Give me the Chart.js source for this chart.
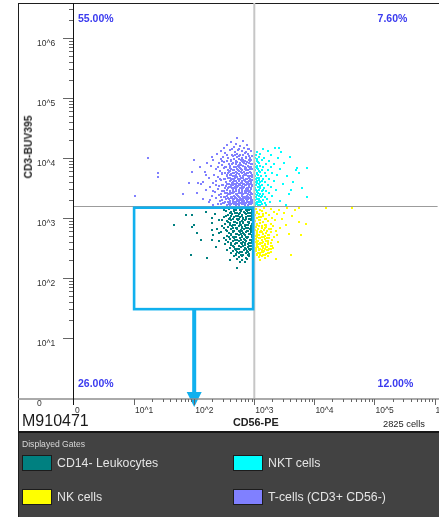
<!DOCTYPE html>
<html>
<head>
<meta charset="utf-8">
<script src="https://cdn.jsdelivr.net/npm/chart.js@4/dist/chart.umd.min.js"></script>
<style>
  html, body { margin: 0; padding: 0; background: #fff; }
  #wrap { position: relative; width: 439px; height: 517px; overflow: hidden; font-family: "Liberation Sans", Arial, sans-serif; }
  #plot { position: absolute; left: 0; top: 0; z-index: 2; }
  .abs { position: absolute; z-index: 1; }
  .txt { position: absolute; z-index: 3; white-space: nowrap; line-height: 1; }
</style>
</head>
<body>
<div id="wrap">
  <!-- frame -->
  <div class="abs" style="left:18px;top:3px;width:421px;height:1px;background:#1e1e1e"></div>
  <div class="abs" style="left:18px;top:3px;width:1px;height:514px;background:#1e1e1e"></div>
  <div class="abs" style="left:18px;top:431px;width:421px;height:2px;background:#161616"></div>
  <div class="abs" id="legendBox" style="left:19px;top:433px;width:420px;height:84px;background:#424242"></div>

  <div class="txt" id="yTitle" style="left:29px;top:147px;font-weight:bold;font-size:10.3px;color:#222;transform:translate(-50%,-50%) rotate(-90deg);"></div>
  <div class="txt" id="sampleId" style="left:22px;top:413px;font-size:16px;color:#1a1a1a;"></div>
  <div class="txt" id="xTitle" style="left:233px;top:417px;font-weight:bold;font-size:10.8px;color:#222;"></div>
  <div class="txt" id="cellCount" style="left:383px;top:419.5px;font-size:9.3px;color:#222;"></div>
  <div class="txt" style="left:22px;top:439.5px;font-size:8.6px;color:#d8d8d8;">Displayed Gates</div>
  <div id="legendItems"></div>

  <canvas id="plot" width="439" height="517"></canvas>
</div>

<script>
// ---- axes (decade units: value 3 means 10^3) ----
const cd56Label = 'CD56-PE';
const cd3Label = 'CD3-BUV395';
const sampleName = 'M910471';
const eventCount = 2825;
const decadeLabels = ['0', '10^1', '10^2', '10^3', '10^4', '10^5', '10^6'];

// quadrant cut-offs (log10) and quadrant percentages: UL, UR, LL, LR
const cd56Cut = 3.0;
const cd3Cut = 3.2;
const quadrantPct = [55.00, 7.60, 26.00, 12.00];

// rectangular gate on CD56/CD3 (log10) and the arrow that leads out of it
const gateCd56 = [1.0, 2.98];
const gateCd3 = [1.48, 3.17];
const arrowCd56 = 2.0;

// displayed gates
const gateNames = ['CD14- Leukocytes', 'NKT cells', 'NK cells', 'T-cells (CD3+ CD56-)'];

// events per gate: [log10 CD56-PE, log10 CD3-BUV395]
const cd14Events = [
  [2.46,3.16],[2.58,3.15],[2.64,3.16],[2.70,3.14],[2.75,3.16],[2.80,3.15],[2.85,3.16],[2.90,3.14],[2.95,3.15],
  [2.53,3.11],[2.61,3.10],[2.67,3.12],[2.72,3.09],[2.78,3.11],[2.83,3.10],[2.88,3.12],[2.93,3.09],[2.97,3.11],
  [2.35,3.06],[2.56,3.05],[2.63,3.07],[2.69,3.04],[2.74,3.06],[2.80,3.05],[2.86,3.07],[2.91,3.04],[2.96,3.06],
  [2.49,3.01],[2.59,3.00],[2.66,3.02],[2.71,2.99],[2.77,3.01],[2.82,3.00],[2.87,3.02],[2.92,2.99],[2.97,3.01],
  [2.42,2.96],[2.55,2.95],[2.62,2.97],[2.68,2.94],[2.73,2.96],[2.79,2.95],[2.84,2.97],[2.89,2.94],[2.94,2.96],
  [2.29,2.91],[2.51,2.90],[2.60,2.92],[2.65,2.89],[2.71,2.91],[2.76,2.90],[2.81,2.92],[2.86,2.89],[2.91,2.91],[2.96,2.90],
  [2.47,2.86],[2.57,2.85],[2.63,2.87],[2.69,2.84],[2.74,2.86],[2.79,2.85],[2.84,2.87],[2.89,2.84],[2.94,2.86],
  [2.38,2.81],[2.53,2.80],[2.61,2.82],[2.67,2.79],[2.72,2.81],[2.78,2.80],[2.83,2.82],[2.88,2.79],[2.93,2.81],[2.97,2.80],
  [2.44,2.76],[2.58,2.75],[2.65,2.77],[2.70,2.74],[2.76,2.76],[2.81,2.75],[2.86,2.77],[2.91,2.74],[2.95,2.76],
  [2.32,2.71],[2.55,2.70],[2.62,2.72],[2.68,2.69],[2.74,2.71],[2.79,2.70],[2.85,2.72],[2.90,2.69],[2.96,2.71],
  [2.49,2.66],[2.60,2.65],[2.66,2.67],[2.72,2.64],[2.77,2.66],[2.83,2.65],[2.88,2.67],[2.93,2.64],
  [2.41,2.61],[2.56,2.60],[2.64,2.62],[2.70,2.59],[2.75,2.61],[2.81,2.60],[2.87,2.62],[2.92,2.59],[2.97,2.61],
  [2.52,2.56],[2.62,2.55],[2.68,2.57],[2.74,2.54],[2.79,2.56],[2.85,2.55],[2.90,2.57],[2.95,2.54],
  [2.36,2.51],[2.59,2.50],[2.66,2.52],[2.72,2.49],[2.78,2.51],[2.84,2.50],[2.89,2.52],[2.94,2.49],
  [2.55,2.46],[2.64,2.45],[2.70,2.47],[2.77,2.44],[2.83,2.46],[2.88,2.45],[2.93,2.47],
  [2.61,2.41],[2.69,2.40],[2.75,2.42],[2.82,2.39],[2.87,2.41],[2.92,2.40],
  [2.66,2.36],[2.74,2.35],[2.80,2.37],[2.86,2.34],[2.91,2.36],
  [2.71,2.31],[2.79,2.30],[2.88,2.32],
  [2.76,2.26],[2.84,2.27],
  [2.50,3.13],[2.66,3.14],[2.76,3.13],[2.86,3.14],[2.92,3.13],
  [2.53,3.03],[2.62,3.04],[2.73,3.03],[2.79,3.04],[2.89,3.03],[2.94,3.04],
  [2.57,2.93],[2.66,2.94],[2.76,2.93],[2.82,2.94],[2.92,2.93],
  [2.50,2.83],[2.64,2.84],[2.71,2.83],[2.80,2.84],[2.86,2.83],[2.95,2.84],
  [2.61,2.73],[2.71,2.74],[2.78,2.73],[2.83,2.74],[2.93,2.73],
  [2.53,2.63],[2.68,2.64],[2.78,2.63],[2.85,2.64],[2.95,2.63],
  [2.65,2.53],[2.75,2.54],[2.82,2.53],[2.92,2.54],
  [2.72,2.43],[2.80,2.44],[2.90,2.43],
  [2.60,3.08],[2.68,3.09],[2.76,3.08],[2.84,3.09],[2.90,3.08],[2.95,3.09],
  [2.58,2.98],[2.65,2.99],[2.75,2.98],[2.81,2.98],[2.87,2.99],[2.95,2.98],
  [2.60,2.88],[2.68,2.89],[2.78,2.88],[2.84,2.89],[2.90,2.88],[2.97,2.88],
  [2.55,2.78],[2.64,2.79],[2.74,2.78],[2.80,2.78],[2.89,2.78],[2.94,2.79],
  [2.58,2.68],[2.64,2.69],[2.70,2.68],[2.80,2.68],[2.86,2.69],[2.96,2.68],
  [2.62,2.58],[2.72,2.59],[2.78,2.58],[2.84,2.58],[2.94,2.59],
  [2.68,2.48],[2.75,2.48],[2.86,2.48],[2.91,2.48],
  [2.70,2.38],[2.78,2.38],[2.89,2.38],
  [1.87,3.05],[1.96,3.05],[2.00,2.88],[1.96,2.85],[2.04,2.75],[2.12,2.63],[1.94,2.38],[2.22,2.33],
  [2.30,2.80],[2.37,2.52],[2.42,2.75],[2.47,2.97],[2.59,2.30],[2.72,2.17],[2.29,3.00],[2.20,3.10],
  [2.29,2.63],[1.66,2.88]
];

const nkEvents = [
  [3.03,3.15],[3.09,3.14],[3.16,3.16],[3.28,3.15],[3.41,3.13],[3.55,3.16],[3.68,3.14],
  [3.05,3.10],[3.12,3.11],[3.20,3.09],[3.33,3.10],[3.50,3.08],
  [3.02,3.05],[3.08,3.06],[3.15,3.04],[3.24,3.05],[3.38,3.06],[3.62,3.03],
  [3.04,3.00],[3.11,3.01],[3.19,2.99],[3.29,3.00],[3.46,2.98],
  [3.02,2.95],[3.07,2.96],[3.14,2.94],[3.22,2.95],[3.35,2.96],[3.74,2.93],
  [3.05,2.90],[3.10,2.91],[3.17,2.89],[3.27,2.90],[3.52,2.88],
  [3.03,2.85],[3.08,2.86],[3.13,2.84],[3.20,2.85],[3.31,2.86],[3.43,2.83],
  [3.02,2.80],[3.06,2.81],[3.11,2.79],[3.16,2.80],[3.24,2.81],[3.36,2.79],
  [3.04,2.75],[3.09,2.76],[3.14,2.74],[3.19,2.75],[3.28,2.76],[3.58,2.74],
  [3.02,2.70],[3.07,2.71],[3.12,2.69],[3.17,2.70],[3.22,2.71],[3.33,2.69],
  [3.03,2.65],[3.08,2.66],[3.13,2.64],[3.18,2.65],[3.25,2.66],[3.30,2.64],
  [3.02,2.60],[3.06,2.61],[3.10,2.59],[3.15,2.60],[3.20,2.61],[3.27,2.59],[3.40,2.60],
  [3.04,2.55],[3.08,2.56],[3.12,2.54],[3.17,2.55],[3.22,2.56],[3.29,2.54],
  [3.02,2.50],[3.06,2.51],[3.10,2.49],[3.14,2.50],[3.19,2.51],[3.24,2.49],[3.31,2.50],
  [3.03,2.45],[3.08,2.46],[3.12,2.44],[3.16,2.45],[3.21,2.46],[3.27,2.44],
  [3.05,2.40],[3.10,2.41],[3.15,2.39],[3.20,2.40],[3.25,2.41],
  [3.07,2.35],[3.13,2.36],[3.18,2.34],
  [3.10,2.30],[3.36,2.31],
  [3.09,2.97],[3.17,2.98],
  [3.06,2.82],[3.18,2.83],[3.27,2.82],
  [3.05,2.72],[3.15,2.73],[3.25,2.72],
  [3.05,2.62],[3.12,2.63],[3.23,2.62],
  [3.05,2.52],[3.15,2.53],[3.21,2.52],[3.27,2.53],
  [3.06,2.42],[3.14,2.43],[3.23,2.42],
  [3.04,2.68],[3.10,2.67],[3.16,2.68],[3.21,2.67],
  [3.04,2.58],[3.09,2.57],[3.13,2.58],[3.18,2.57],[3.23,2.58],
  [3.03,2.48],[3.08,2.48],[3.12,2.47],[3.17,2.48],[3.22,2.47],[3.28,2.48],
  [3.04,2.38],[3.09,2.38],[3.13,2.37],[3.18,2.38],[3.22,2.37],
  [3.05,2.78],[3.12,2.77],[3.21,2.78],
  [3.04,2.88],[3.12,2.87],[3.20,2.88],
  [3.05,3.08],[3.14,3.07],[3.08,3.02],
  [3.75,3.17],[3.86,2.90],[3.61,2.38],[4.62,3.17],[4.19,3.16],[3.78,2.72],[3.38,2.72]
];

const nktEvents = [
  [3.14,4.15],[3.35,4.16],[3.41,4.16],
  [3.05,4.10],[3.22,4.11],[3.45,4.09],
  [3.03,4.05],[3.10,4.06],[3.28,4.04],
  [3.02,4.00],[3.08,4.01],[3.16,3.99],[3.40,4.00],[3.60,4.02],
  [3.04,3.95],[3.12,3.96],[3.25,3.94],
  [3.02,3.90],[3.07,3.91],[3.19,3.89],[3.33,3.90],[3.50,3.91],
  [3.03,3.85],[3.10,3.86],[3.15,3.84],[3.28,3.85],[3.88,3.83],[3.71,3.83],
  [3.02,3.80],[3.06,3.81],[3.12,3.79],[3.22,3.80],[3.43,3.81],[3.70,3.79],
  [3.04,3.75],[3.09,3.76],[3.17,3.74],[3.30,3.75],[3.75,3.75],
  [3.02,3.70],[3.06,3.71],[3.11,3.69],[3.20,3.70],[3.38,3.71],[3.55,3.69],
  [3.03,3.65],[3.08,3.66],[3.14,3.64],[3.25,3.65],
  [3.02,3.60],[3.05,3.61],[3.10,3.59],[3.18,3.60],[3.32,3.61],[3.64,3.59],
  [3.03,3.55],[3.07,3.56],[3.13,3.54],[3.22,3.55],[3.47,3.56],
  [3.02,3.50],[3.06,3.51],[3.10,3.49],[3.16,3.50],[3.28,3.51],[3.80,3.49],
  [3.04,3.45],[3.08,3.46],[3.12,3.44],[3.20,3.45],[3.36,3.46],[3.61,3.46],
  [3.02,3.40],[3.06,3.41],[3.10,3.39],[3.15,3.40],[3.24,3.41],[3.57,3.39],
  [3.03,3.35],[3.07,3.36],[3.11,3.34],[3.18,3.35],[3.30,3.36],[3.88,3.34],
  [3.02,3.30],[3.05,3.31],[3.09,3.29],[3.14,3.30],[3.21,3.31],[3.42,3.29],
  [3.03,3.25],[3.07,3.26],[3.12,3.24],[3.17,3.25],[3.26,3.26],
  [3.02,3.21],[3.06,3.22],[3.10,3.21],[3.19,3.22],[3.52,3.21],
  [3.05,3.87],[3.05,3.67],[3.03,3.47],[3.08,3.32],[3.04,3.27],
  [3.04,3.98],[3.06,3.93],[3.04,3.83],[3.08,3.78],[3.04,3.73],[3.07,3.63],[3.04,3.58],[3.09,3.53],
  [3.05,3.43],[3.04,3.38],[3.08,3.28],[3.04,3.23],[3.12,3.62],[3.15,3.47],[3.12,3.37],[3.11,3.27]
];

const tCellEvents = [
  [2.72,4.33],[2.62,4.27],[2.81,4.28],[2.55,4.21],[2.70,4.23],[2.77,4.19],[2.88,4.22],
  [2.50,4.16],[2.66,4.18],[2.74,4.15],[2.83,4.17],[2.92,4.14],
  [2.45,4.11],[2.59,4.13],[2.68,4.10],[2.79,4.12],[2.86,4.09],[2.95,4.11],
  [2.38,4.06],[2.52,4.08],[2.63,4.05],[2.72,4.07],[2.76,4.04],[2.84,4.08],[2.90,4.06],
  [2.48,4.02],[2.57,4.00],[2.65,4.03],[2.71,4.01],[2.80,3.99],[2.87,4.02],[2.93,4.00],[2.97,4.03],
  [2.32,3.96],[2.44,3.98],[2.55,3.95],[2.61,3.97],[2.69,3.94],[2.74,3.98],[2.82,3.96],[2.88,3.93],[2.95,3.97],
  [2.41,3.91],[2.50,3.93],[2.58,3.90],[2.64,3.92],[2.70,3.89],[2.77,3.91],[2.81,3.93],[2.86,3.90],[2.91,3.92],[2.96,3.89],
  [2.28,3.86],[2.46,3.88],[2.53,3.85],[2.60,3.87],[2.67,3.84],[2.73,3.86],[2.78,3.88],[2.84,3.85],[2.89,3.87],[2.94,3.84],
  [2.36,3.81],[2.49,3.83],[2.56,3.80],[2.62,3.82],[2.66,3.79],[2.71,3.81],[2.76,3.83],[2.80,3.80],[2.85,3.82],[2.90,3.79],[2.97,3.81],
  [2.18,3.76],[2.43,3.78],[2.51,3.75],[2.58,3.77],[2.64,3.74],[2.69,3.76],[2.74,3.78],[2.79,3.75],[2.83,3.77],[2.88,3.74],[2.93,3.76],
  [2.33,3.71],[2.47,3.73],[2.54,3.70],[2.60,3.72],[2.65,3.69],[2.70,3.71],[2.75,3.73],[2.81,3.70],[2.86,3.72],[2.91,3.69],[2.96,3.71],
  [2.25,3.66],[2.40,3.68],[2.50,3.65],[2.57,3.67],[2.63,3.64],[2.68,3.66],[2.72,3.68],[2.77,3.65],[2.82,3.67],[2.87,3.64],[2.92,3.66],[2.97,3.68],
  [2.37,3.61],[2.45,3.63],[2.53,3.60],[2.59,3.62],[2.64,3.59],[2.70,3.61],[2.75,3.63],[2.79,3.60],[2.84,3.62],[2.89,3.59],[2.94,3.61],
  [2.12,3.56],[2.31,3.58],[2.48,3.55],[2.55,3.57],[2.61,3.54],[2.66,3.56],[2.71,3.58],[2.76,3.55],[2.81,3.57],[2.85,3.54],[2.90,3.56],[2.95,3.58],
  [2.27,3.51],[2.42,3.53],[2.51,3.50],[2.58,3.52],[2.63,3.49],[2.68,3.51],[2.73,3.53],[2.78,3.50],[2.83,3.52],[2.88,3.49],[2.92,3.51],[2.97,3.53],
  [2.20,3.46],[2.39,3.48],[2.46,3.45],[2.54,3.47],[2.60,3.44],[2.65,3.46],[2.70,3.48],[2.74,3.45],[2.80,3.47],[2.85,3.44],[2.89,3.46],[2.94,3.48],
  [2.05,3.41],[2.34,3.43],[2.44,3.40],[2.52,3.42],[2.57,3.39],[2.62,3.41],[2.67,3.43],[2.72,3.40],[2.77,3.42],[2.82,3.39],[2.86,3.41],[2.91,3.43],[2.96,3.40],
  [2.29,3.36],[2.41,3.38],[2.49,3.35],[2.55,3.37],[2.61,3.34],[2.66,3.36],[2.71,3.38],[2.75,3.35],[2.79,3.37],[2.84,3.34],[2.88,3.36],[2.93,3.38],
  [2.15,3.31],[2.36,3.33],[2.47,3.30],[2.53,3.32],[2.59,3.29],[2.64,3.31],[2.69,3.33],[2.74,3.30],[2.78,3.32],[2.83,3.29],[2.87,3.31],[2.92,3.33],[2.97,3.30],
  [2.24,3.26],[2.43,3.28],[2.50,3.25],[2.56,3.27],[2.62,3.24],[2.67,3.26],[2.72,3.28],[2.76,3.25],[2.81,3.27],[2.85,3.24],[2.90,3.26],[2.95,3.28],
  [2.32,3.22],[2.45,3.23],[2.54,3.21],[2.60,3.22],[2.66,3.23],[2.70,3.21],[2.75,3.22],[2.80,3.23],[2.84,3.21],[2.89,3.22],[2.94,3.23],
  [2.63,4.14],[2.73,4.13],[2.90,4.15],
  [2.55,4.04],[2.68,4.05],[2.74,4.03],[2.82,4.05],[2.91,4.03],
  [2.47,3.94],[2.62,3.95],[2.72,3.93],[2.79,3.95],[2.84,3.94],[2.93,3.95],
  [2.39,3.84],[2.52,3.85],[2.59,3.83],[2.69,3.85],[2.75,3.84],[2.82,3.86],[2.87,3.83],[2.92,3.85],
  [2.46,3.74],[2.56,3.75],[2.62,3.73],[2.67,3.75],[2.72,3.74],[2.78,3.76],[2.85,3.73],[2.90,3.75],[2.95,3.74],
  [2.43,3.64],[2.51,3.65],[2.61,3.63],[2.67,3.65],[2.73,3.64],[2.78,3.66],[2.83,3.63],[2.88,3.65],[2.93,3.64],
  [2.36,3.54],[2.46,3.55],[2.53,3.53],[2.64,3.55],[2.69,3.54],[2.74,3.56],[2.79,3.53],[2.87,3.55],[2.92,3.54],[2.96,3.55],
  [2.31,3.44],[2.49,3.45],[2.59,3.43],[2.64,3.45],[2.70,3.44],[2.75,3.46],[2.80,3.43],[2.84,3.45],[2.88,3.44],[2.93,3.45],
  [2.44,3.34],[2.51,3.35],[2.57,3.33],[2.63,3.35],[2.68,3.34],[2.73,3.36],[2.77,3.33],[2.81,3.35],[2.86,3.34],[2.90,3.35],[2.95,3.34],
  [2.39,3.24],[2.48,3.25],[2.58,3.23],[2.64,3.25],[2.69,3.24],[2.73,3.23],[2.78,3.25],[2.82,3.24],[2.87,3.25],[2.92,3.24],[2.96,3.25],
  [2.66,3.98],[2.78,3.97],[2.86,3.99],[2.92,3.96],
  [2.63,3.89],[2.75,3.88],[2.83,3.91],[2.94,3.90],[2.70,3.92],
  [2.65,3.80],[2.73,3.79],[2.78,3.81],[2.87,3.80],[2.93,3.82],[2.59,3.78],
  [2.62,3.71],[2.68,3.69],[2.77,3.70],[2.83,3.72],[2.89,3.70],[2.95,3.69],[2.55,3.72],
  [2.60,3.66],[2.66,3.62],[2.74,3.61],[2.80,3.62],[2.86,3.60],[2.91,3.62],[2.96,3.63],
  [2.58,3.57],[2.63,3.58],[2.69,3.57],[2.78,3.58],[2.83,3.56],[2.88,3.58],[2.93,3.57],
  [2.56,3.49],[2.61,3.51],[2.67,3.49],[2.71,3.51],[2.76,3.49],[2.81,3.50],[2.86,3.48],[2.90,3.50],[2.95,3.49],
  [2.55,3.41],[2.60,3.39],[2.65,3.41],[2.70,3.39],[2.74,3.41],[2.79,3.40],[2.84,3.42],[2.89,3.40],[2.94,3.41],
  [2.58,3.31],[2.62,3.33],[2.67,3.31],[2.72,3.32],[2.76,3.30],[2.81,3.31],[2.85,3.33],[2.90,3.31],[2.95,3.32],
  [2.52,3.27],[2.60,3.26],[2.65,3.28],[2.70,3.27],[2.74,3.26],[2.79,3.28],[2.83,3.26],[2.88,3.28],[2.93,3.26],[2.97,3.27],
  [1.01,3.37],[1.23,3.99],[1.39,3.74],[1.39,3.68],[1.81,3.39],[1.92,3.58],[1.97,3.76],[2.00,3.96],
  [2.06,3.58],[2.15,3.60],[2.20,3.71],[2.27,3.30],[2.10,3.85],[2.22,3.92],[2.30,4.02]
];

// ---- styling ----
const gateColors = {
  'CD14- Leukocytes': '#008080',
  'NKT cells': '#00ffff',
  'NK cells': '#ffff00',
  'T-cells (CD3+ CD56-)': '#8080ff'
};
const gateEvents = {
  'CD14- Leukocytes': cd14Events,
  'NKT cells': nktEvents,
  'NK cells': nkEvents,
  'T-cells (CD3+ CD56-)': tCellEvents
};
const regionBlue = '#10b0ee';
const quadTextColor = '#3a3aef';
const labelFont = '"Liberation Sans", Arial, sans-serif';

// ---- static text ----
document.getElementById('yTitle').textContent = cd3Label;
document.getElementById('xTitle').textContent = cd56Label;
document.getElementById('sampleId').textContent = sampleName;
document.getElementById('cellCount').textContent = eventCount + ' cells';

// legend of displayed gates (two columns)
(function buildLegend() {
  const host = document.getElementById('legendItems');
  const cols = [22, 233];
  const rows = [455, 489];
  gateNames.forEach((name, i) => {
    const cx = cols[i % 2], ry = rows[Math.floor(i / 2)];
    const sw = document.createElement('div');
    sw.className = 'abs';
    sw.style.cssText = `z-index:3;left:${cx}px;top:${ry}px;width:28px;height:14px;border:1px solid #1c1c1c;background:${gateColors[name]}`;
    host.appendChild(sw);
    const t = document.createElement('div');
    t.className = 'txt';
    t.textContent = name;
    t.style.cssText += `left:${cx + 35}px;top:${ry + 2}px;font-size:12.3px;color:#e4e4e4;`;
    host.appendChild(t);
  });
})();

// ---- ticks: decades plus log sub-ticks above 10^1 ----
function buildLogTicks(maxVal) {
  const out = [];
  for (let n = 0; n <= Math.floor(maxVal); n++) {
    out.push({ value: n });
    if (n >= 1) {
      for (let k = 2; k <= 9; k++) {
        const v = n + Math.log10(k);
        if (v <= maxVal) out.push({ value: v });
      }
    }
  }
  return out.sort((a, b) => a.value - b.value);
}
function isDecade(v) { return Math.abs(v - Math.round(v)) < 1e-9; }
function decadeText(v) { return isDecade(v) ? (decadeLabels[Math.round(v)] || '') : ''; }

// crisp 2x2 event marker
function eventDot(color) {
  const c = document.createElement('canvas');
  c.width = 2; c.height = 2;
  const g = c.getContext('2d');
  g.fillStyle = color;
  g.fillRect(0, 0, 2, 2);
  return c;
}

// ---- overlay: quadrants, gate region, arrow, axes, tick marks, quadrant stats ----
const flowOverlay = {
  id: 'flowOverlay',
  beforeDatasetsDraw(chart) {
    chart.ctx.imageSmoothingEnabled = false;
  },
  afterDatasetsDraw(chart) {
    const { ctx, chartArea: a, scales: { x, y } } = chart;
    ctx.save();

    // quadrant markers
    const qx = x.getPixelForValue(cd56Cut);
    const qy = y.getPixelForValue(cd3Cut);
    ctx.strokeStyle = '#c6c6c6';
    ctx.lineWidth = 2;
    ctx.beginPath(); ctx.moveTo(qx, a.top); ctx.lineTo(qx, a.bottom); ctx.stroke();
    ctx.strokeStyle = '#9c9c9c';
    ctx.lineWidth = 1;
    ctx.beginPath(); ctx.moveTo(a.left, Math.round(qy) + 0.5); ctx.lineTo(a.right, Math.round(qy) + 0.5); ctx.stroke();

    // rectangular gate
    const gx1 = x.getPixelForValue(gateCd56[0]), gx2 = x.getPixelForValue(gateCd56[1]);
    const gy1 = y.getPixelForValue(gateCd3[1]), gy2 = y.getPixelForValue(gateCd3[0]);
    ctx.strokeStyle = regionBlue;
    ctx.lineWidth = 2.6;
    ctx.strokeRect(gx1, gy1, gx2 - gx1, gy2 - gy1);

    // arrow leading out of the gate
    const ax = x.getPixelForValue(arrowCd56);
    const tip = a.bottom + 9;
    ctx.fillStyle = regionBlue;
    ctx.fillRect(ax - 2, gy2, 4, tip - 14 - gy2);
    ctx.beginPath();
    ctx.moveTo(ax - 7.5, tip - 15);
    ctx.lineTo(ax + 7.5, tip - 15);
    ctx.lineTo(ax, tip);
    ctx.closePath();
    ctx.fill();

    // axis lines
    ctx.strokeStyle = '#8e8e8e';
    ctx.lineWidth = 1.6;
    ctx.beginPath(); ctx.moveTo(18, a.bottom + 1); ctx.lineTo(chart.width, a.bottom + 1); ctx.stroke();
    ctx.strokeStyle = '#111';
    ctx.lineWidth = 1;
    ctx.beginPath(); ctx.moveTo(a.left - 0.5, a.top); ctx.lineTo(a.left - 0.5, a.bottom + 7); ctx.stroke();

    // tick marks
    ctx.strokeStyle = '#666';
    ctx.lineWidth = 1;
    y.ticks.forEach(t => {
      if (t.value === 0) return;
      const py = Math.round(y.getPixelForValue(t.value)) + 0.5;
      const len = isDecade(t.value) ? 10 : 4;
      ctx.beginPath(); ctx.moveTo(a.left - 1 - len, py); ctx.lineTo(a.left - 1, py); ctx.stroke();
    });
    x.ticks.forEach(t => {
      if (t.value === 0) return;
      const px = Math.round(x.getPixelForValue(t.value)) + 0.5;
      const len = isDecade(t.value) ? 6 : 3;
      ctx.beginPath(); ctx.moveTo(px, a.bottom + 1); ctx.lineTo(px, a.bottom + 1 + len); ctx.stroke();
    });

    // quadrant percentages
    ctx.fillStyle = quadTextColor;
    ctx.font = 'bold 10.5px ' + labelFont;
    ctx.textBaseline = 'middle';
    ctx.textAlign = 'left';
    const fmt = v => v.toFixed(2) + '%';
    const lx = a.left + 4, rx = a.right - 60;
    const ty = a.top + 16, by = a.bottom - 14;
    ctx.fillText(fmt(quadrantPct[0]), lx, ty);
    ctx.fillText(fmt(quadrantPct[1]), rx, ty);
    ctx.fillText(fmt(quadrantPct[2]), lx, by);
    ctx.fillText(fmt(quadrantPct[3]), rx, by);

    ctx.restore();
  }
};

// ---- chart ----
const drawOrder = ['CD14- Leukocytes', 'NK cells', 'NKT cells', 'T-cells (CD3+ CD56-)'];
const datasets = drawOrder.map(name => ({
  label: name,
  data: gateEvents[name].map(([cx, cy]) => ({ x: cx, y: cy })),
  backgroundColor: gateColors[name],
  borderWidth: 0,
  pointStyle: eventDot(gateColors[name]),
  pointRadius: 1.4,
  pointHoverRadius: 1.4
}));

const tickFont = { family: labelFont, size: 8.5 };

new Chart(document.getElementById('plot'), {
  type: 'scatter',
  data: { datasets },
  options: {
    responsive: false,
    animation: false,
    events: [],
    layout: { padding: { left: 37, top: 3, right: 0, bottom: 99 } },
    plugins: { legend: { display: false }, tooltip: { enabled: false } },
    scales: {
      x: {
        type: 'linear',
        min: 0,
        max: 6.05,
        afterBuildTicks: s => { s.ticks = buildLogTicks(s.max); },
        afterFit: s => { s.height = 20; s.paddingLeft = 0; s.paddingRight = 0; },
        grid: { display: false, drawTicks: false },
        border: { display: false },
        ticks: {
          autoSkip: false, maxRotation: 0, minRotation: 0,
          align: 'start', labelOffset: 1, padding: 8,
          font: tickFont, color: '#333',
          callback: v => decadeText(v)
        }
      },
      y: {
        type: 'linear',
        min: 0,
        max: 6.58,
        afterBuildTicks: s => { s.ticks = buildLogTicks(s.max); },
        afterFit: s => { s.width = 37; s.paddingTop = 0; s.paddingBottom = 0; },
        grid: { display: false, drawTicks: false },
        border: { display: false },
        ticks: {
          autoSkip: false, crossAlign: 'far', labelOffset: 6, padding: 0,
          font: tickFont, color: '#333',
          callback: v => decadeText(v)
        }
      }
    }
  },
  plugins: [flowOverlay]
});
</script>
</body>
</html>
